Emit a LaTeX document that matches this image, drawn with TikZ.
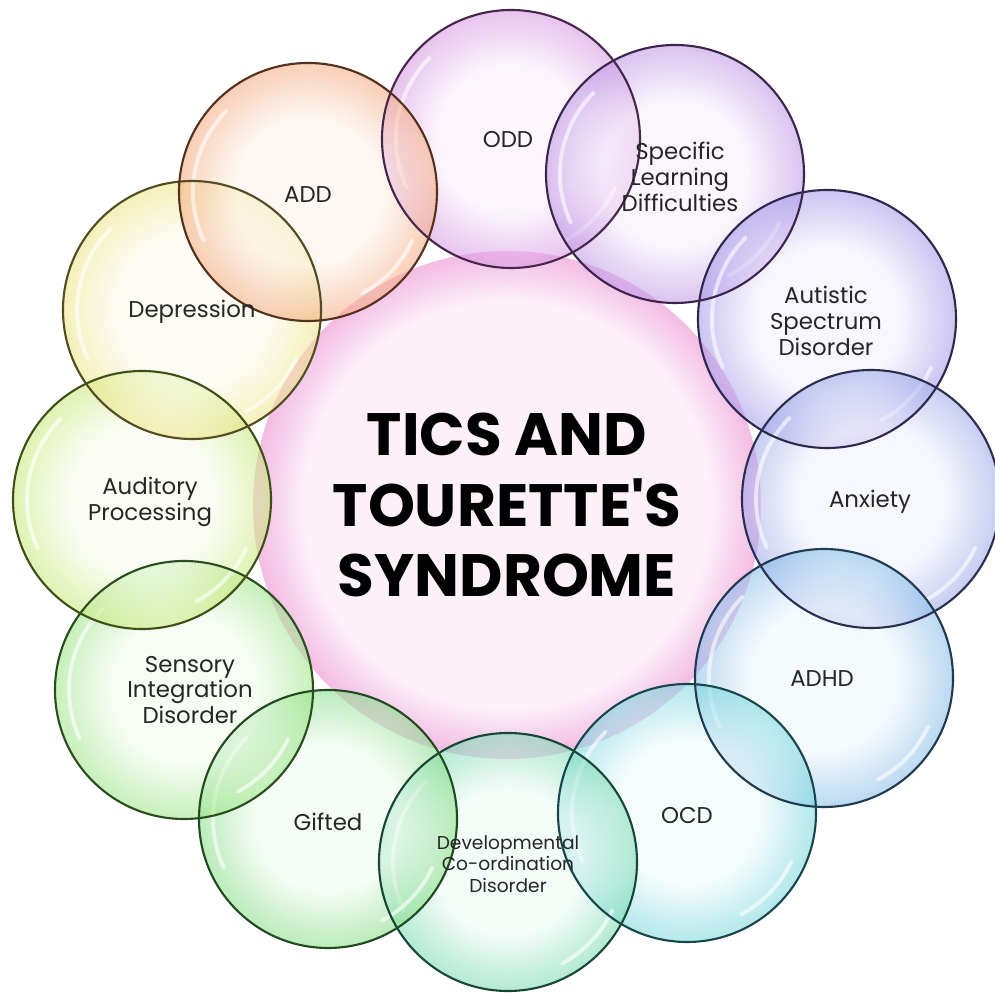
\documentclass[tikz,border=0pt]{standalone}
\usepackage{fontspec}
\setmainfont{Poppins}
\newfontfamily\titlefont{Poppins}[Ligatures=TeXOff]
\usepackage{tikz}
\usetikzlibrary{positioning}
\definecolor{ctrc}{RGB}{236,150,212}
\definecolor{oddc}{RGB}{200,110,215}
\definecolor{sldc}{RGB}{165,110,220}
\definecolor{asdc}{RGB}{130,115,225}
\definecolor{anxc}{RGB}{120,135,225}
\definecolor{adhdc}{RGB}{90,165,225}
\definecolor{ocdc}{RGB}{70,200,210}
\definecolor{devc}{RGB}{70,205,150}
\definecolor{gifc}{RGB}{90,210,90}
\definecolor{senc}{RGB}{120,220,90}
\definecolor{audc}{RGB}{180,225,70}
\definecolor{depc}{RGB}{230,220,90}
\definecolor{addc}{RGB}{240,140,80}
\pgfdeclareradialshading[bubin,bubout]{bubble}{\pgfpoint{0bp}{0bp}}{color(0bp)=(bubin); color(14bp)=(bubin); color(25bp)=(bubout); color(50bp)=(bubout)}
\pgfdeclareradialshading[bubin,bubout]{glow}{\pgfpoint{0bp}{0bp}}{color(0bp)=(bubin); color(20bp)=(bubin); color(25bp)=(bubout); color(50bp)=(bubout)}
\tikzset{
  bubcols/.code={\colorlet{bubin}{#1!10!white}\colorlet{bubout}{#1!75!white}},
  ctrcols/.code={\colorlet{bubin}{#1!14!white}\colorlet{bubout}{#1!65!white}},
  shine/.style={white, line width=1.1pt, opacity=0.6, line cap=round},
  bubble/.style={circle, minimum size=25.8mm, inner sep=0pt, shading=bubble, bubcols=#1, fill opacity=0.55,
    path picture={
      \draw[shine] ([shift={(135:11.5mm)}]path picture bounding box.center) arc (135:205:11.5mm);
      \draw[shine] ([shift={(-25:11.5mm)}]path picture bounding box.center) arc (-25:-62:11.5mm);}},
  rim/.style={draw=#1!35!black, line width=0.6pt},
  centre/.style={circle, minimum size=50.8mm, inner sep=0pt, shading=glow, ctrcols=ctrc},
  lbl/.style={align=center, font=\fontsize{6.5}{7.3}\selectfont, text=black!85},
  smalllbl/.style={align=center, font=\fontsize{5.3}{6.1}\selectfont, text=black!85},
  title/.style={align=center, font=\titlefont\bfseries\fontsize{17}{20}\selectfont, text=black}
}
\begin{document}
\begin{tikzpicture}[x=0.1mm, y=0.1mm]
\fill[white] (0,0) rectangle (995,995);
\useasboundingbox (0,0) rectangle (995,995);
\node[centre] (ctr) at (507,490) {};
\node[bubble=oddc] (odd) at (511,856) {};
\node[bubble=sldc] (sld) at (675,821) {};
\node[bubble=asdc] (asd) at (827,676) {};
\node[bubble=anxc] (anx) at (871,496) {};
\node[bubble=adhdc] (adhd) at (824,317) {};
\node[bubble=ocdc] (ocd) at (687,182) {};
\node[bubble=devc] (dev) at (508,133) {};
\node[bubble=gifc] (gif) at (328,176) {};
\node[bubble=senc] (sen) at (184,305) {};
\node[bubble=audc] (aud) at (142,495) {};
\node[bubble=depc] (dep) at (192,685) {};
\node[bubble=addc] (add) at (308,803) {};
\draw[rim=oddc] (odd) circle[radius=12.9mm];
\draw[rim=sldc] (sld) circle[radius=12.9mm];
\draw[rim=asdc] (asd) circle[radius=12.9mm];
\draw[rim=anxc] (anx) circle[radius=12.9mm];
\draw[rim=adhdc] (adhd) circle[radius=12.9mm];
\draw[rim=ocdc] (ocd) circle[radius=12.9mm];
\draw[rim=devc] (dev) circle[radius=12.9mm];
\draw[rim=gifc] (gif) circle[radius=12.9mm];
\draw[rim=senc] (sen) circle[radius=12.9mm];
\draw[rim=audc] (aud) circle[radius=12.9mm];
\draw[rim=depc] (dep) circle[radius=12.9mm];
\draw[rim=addc] (add) circle[radius=12.9mm];
\node[title] (tt) at (ctr) {TICS AND\\TOURETTE'S\\SYNDROME};
\node[lbl] (lodd) at (508,855) {ODD};
\node[lbl] (lsld) at (680,818) {Specific\\Learning\\Difficulties};
\node[lbl] (lasd) at (826,674) {Autistic\\Spectrum\\Disorder};
\node[lbl] (lanx) at (870,493) {Anxiety};
\node[lbl] (ladhd) at (822,316) {ADHD};
\node[lbl] (locd) at (687,179) {OCD};
\node[smalllbl] (ldev) at (508,131) {Developmental\\Co-ordination\\Disorder};
\node[lbl] (lgif) at (328,173) {Gifted};
\node[lbl] (lsen) at (190,305) {Sensory\\Integration\\Disorder};
\node[lbl] (laud) at (150,493) {Auditory\\Processing};
\node[lbl] (ldep) at (192,683) {Depression};
\node[lbl] (ladd) at (308,800) {ADD};
\end{tikzpicture}
\end{document}
